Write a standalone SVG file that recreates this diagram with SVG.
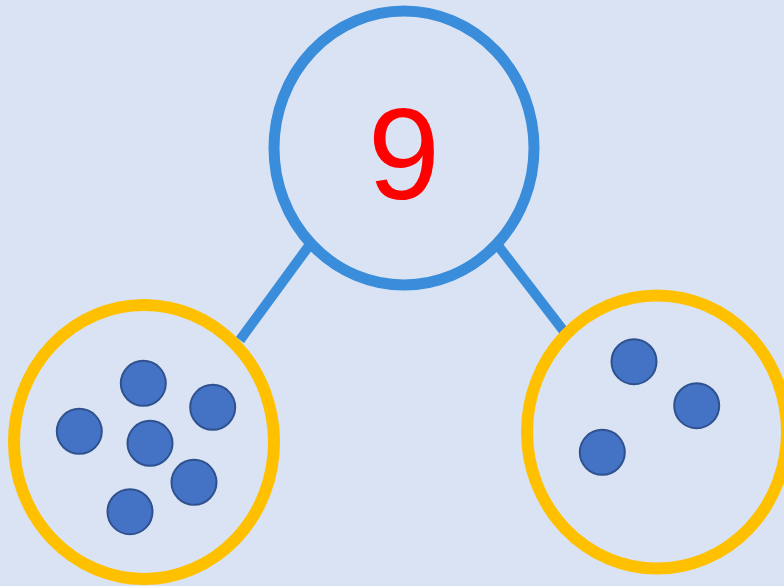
<svg xmlns="http://www.w3.org/2000/svg" width="784" height="586" viewBox="0 0 784 586">
  <style>
    .whole { fill: none; stroke: #3A8DDA; stroke-width: 11; }
    .part { fill: none; stroke: #FFC000; stroke-width: 12; }
    .link { stroke: #3A8DDA; stroke-width: 10; stroke-linecap: butt; }
    .dot { fill: #4472C4; stroke: #2F528F; stroke-width: 2; }
    .num { font-family: "Liberation Sans", Arial, sans-serif; font-size: 130px; fill: #FF0000; text-anchor: middle; }
  </style>
  <rect width="784" height="586" fill="#DAE3F3"/>

  <!-- connectors between the whole and its parts -->
  <g id="connectors">
    <line class="link" x1="311" y1="243" x2="240" y2="340"/>
    <line class="link" x1="496" y1="243" x2="566" y2="334"/>
  </g>

  <!-- whole: 9 -->
  <g id="node-whole">
    <ellipse class="whole" cx="404" cy="148" rx="130" ry="137"/>
    <text class="num" x="404" y="199">9</text>
  </g>

  <!-- left part: six counters -->
  <g id="node-left">
    <ellipse class="part" cx="144" cy="442" rx="130" ry="137"/>
    <circle class="dot" cx="143.3" cy="383.3" r="22.5"/>
    <circle class="dot" cx="212.7" cy="407.3" r="22.5"/>
    <circle class="dot" cx="79.3" cy="431.3" r="22.5"/>
    <circle class="dot" cx="150" cy="443.3" r="22.5"/>
    <circle class="dot" cx="194" cy="482.3" r="22.5"/>
    <circle class="dot" cx="130" cy="511.7" r="22.5"/>
  </g>

  <!-- right part: three counters -->
  <g id="node-right">
    <ellipse class="part" cx="657" cy="432" rx="130" ry="136.5"/>
    <circle class="dot" cx="634" cy="361.7" r="22.5"/>
    <circle class="dot" cx="696.7" cy="405.7" r="22.5"/>
    <circle class="dot" cx="602.3" cy="452.3" r="22.5"/>
  </g>
</svg>
